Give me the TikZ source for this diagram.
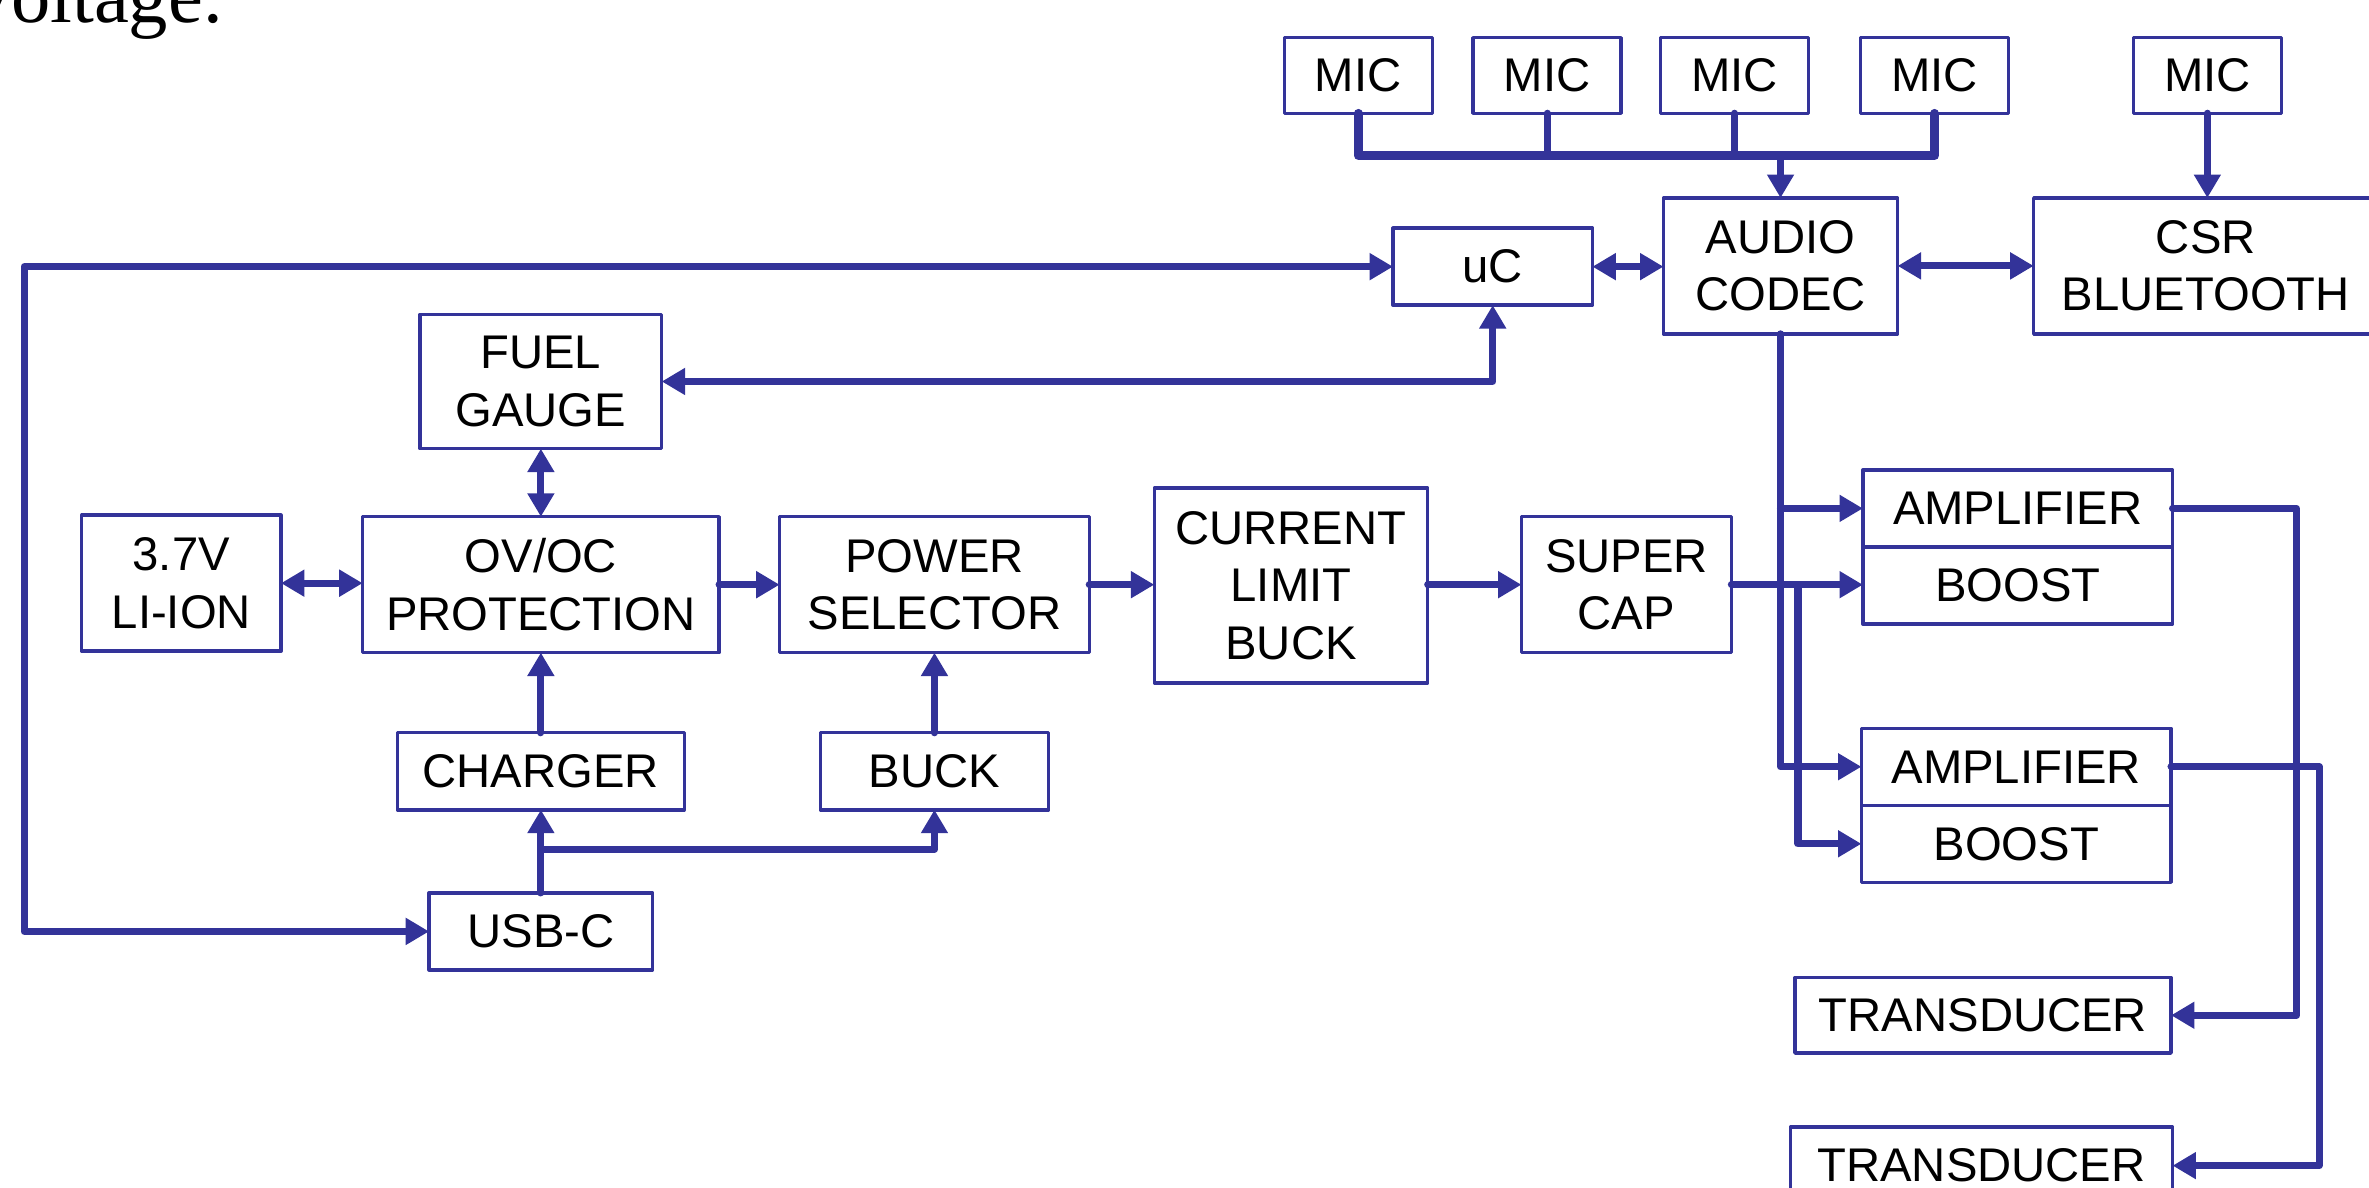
\documentclass[tikz,border=0pt]{standalone}
\usepackage{fontspec}
\setmainfont{Liberation Sans}
\newfontfamily\pagefont{Liberation Serif}
\usetikzlibrary{arrows.meta,positioning}
\definecolor{wireblue}{RGB}{51,51,153}

\begin{document}
\begin{tikzpicture}[x=0.02cm,y=-0.02cm,line cap=round,line join=round,
  blk/.style={draw=wireblue,line width=1.3pt,fill=white,inner sep=0pt,outer sep=0pt,
    align=center,font=\fontsize{17.8}{21.6}\selectfont},
  wire/.style={draw=wireblue,line width=2.7pt},
  arr/.style={wire,-{Triangle[length=3.1mm,width=3.4mm]}},
  both/.style={wire,{Triangle[length=3.1mm,width=3.4mm]}-{Triangle[length=3.1mm,width=3.4mm]}}]
\path[use as bounding box] (0,0) rectangle (1568,786);
\node[font=\pagefont\fontsize{29.6}{30}\selectfont,anchor=base west,inner sep=0pt] (prevtext) at (-19,15) {voltage.};
% microphones
\node[blk,minimum width=1.96cm,minimum height=1cm] (mic1) at (899,50) {MIC};
\node[blk,minimum width=1.96cm,minimum height=1cm] (mic2) at (1024,50) {MIC};
\node[blk,minimum width=1.96cm,minimum height=1cm] (mic3) at (1148,50) {MIC};
\node[blk,minimum width=1.96cm,minimum height=1cm] (mic4) at (1280.5,50) {MIC};
\node[blk,minimum width=1.96cm,minimum height=1cm] (mic5) at (1461,50) {MIC};
% control and audio
\node[blk,minimum width=2.64cm,minimum height=1.02cm] (uc) at (988,176.5) {uC};
\node[blk,minimum width=3.1cm,minimum height=1.8cm] (codec) at (1178.5,176) {AUDIO\\CODEC};
\node[blk,minimum width=4.56cm,minimum height=1.8cm] (bt) at (1460,176) {CSR\\BLUETOOTH};
% power path
\node[blk,minimum width=3.2cm,minimum height=1.78cm] (fuel) at (358,252.5) {FUEL\\GAUGE};
\node[blk,minimum width=2.64cm,minimum height=1.8cm] (liion) at (120,386) {3.7V\\LI-ION};
\node[blk,minimum width=4.72cm,minimum height=1.8cm] (ovoc) at (358,387) {OV/OC\\PROTECTION};
\node[blk,minimum width=4.1cm,minimum height=1.8cm] (psel) at (618.5,387) {POWER\\SELECTOR};
\node[blk,minimum width=3.62cm,minimum height=2.58cm] (clb) at (854.5,387.5) {CURRENT\\LIMIT\\BUCK};
\node[blk,minimum width=2.78cm,minimum height=1.8cm] (scap) at (1076.5,387) {SUPER\\CAP};
\node[blk,minimum width=3.8cm,minimum height=1.02cm] (charger) at (358,510.5) {CHARGER};
\node[blk,minimum width=3.02cm,minimum height=1.02cm] (buck) at (618.5,510.5) {BUCK};
\node[blk,minimum width=2.96cm,minimum height=1.02cm] (usbc) at (358,616.5) {USB-C};
% output stages
\node[blk,minimum width=4.1cm,minimum height=1.02cm] (amp1) at (1335.5,336.5) {AMPLIFIER};
\node[blk,minimum width=4.1cm,minimum height=1.02cm,below=0pt of amp1] (boost1) {BOOST};
\node[blk,minimum width=4.1cm,minimum height=1.02cm] (amp2) at (1334.5,507.5) {AMPLIFIER};
\node[blk,minimum width=4.1cm,minimum height=1.02cm,below=0pt of amp2] (boost2) {BOOST};
\node[blk,minimum width=4.98cm,minimum height=1cm] (trans1) at (1312.5,672) {TRANSDUCER};
\node[blk,minimum width=5.06cm,minimum height=1.02cm] (trans2) at (1311.5,771.5) {TRANSDUCER};
% turning points
\coordinate (bus) at (1178,103);
\coordinate (lft) at (16,176.5);
\coordinate (split) at (358,562);
\coordinate (capbr) at (1190,387);
\coordinate (rt1) at (1520,336.5);
\coordinate (rt2) at (1535,507.5);
% connectors
\draw[wire,line width=3.3pt] (mic1.south) |- (mic4.south |- bus) -- (mic4.south);
\draw[wire] (mic2.south) -- (mic2.south |- bus);
\draw[wire] (mic3.south) -- (mic3.south |- bus);
\draw[arr] (codec.north |- bus) -- (codec.north);
\draw[arr] (mic5.south) -- (mic5.south |- bt.north);
\draw[both] (uc.east) -- (uc.east -| codec.west);
\draw[both] (codec.east) -- (codec.east -| bt.west);
\draw[both] (uc.west) -- (lft) |- (usbc.west);
\draw[both] (uc.south) |- (fuel.east);
\draw[both] (fuel.south) -- (ovoc.north);
\draw[both] (liion.east) -- (liion.east -| ovoc.west);
\draw[arr] (ovoc.east) -- (psel.west);
\draw[arr] (psel.east) -- (psel.east -| clb.west);
\draw[arr] (clb.east |- scap.west) -- (scap.west);
\draw[arr] (charger.north) -- (ovoc.south);
\draw[arr] (buck.north) -- (psel.south);
\draw[arr] (usbc.north) -- (charger.south);
\draw[arr] (split) -| (buck.south);
\draw[arr] (codec.south) |- (amp2.west);
\draw[arr] (codec.south |- amp1.west) -- (amp1.west);
\draw[arr] (scap.east) -- (scap.east -| boost1.west);
\draw[arr] (capbr) |- (boost2.west);
\draw[arr] (amp1.east) -- (rt1) |- (trans1.east);
\draw[arr] (amp2.east) -- (rt2) |- (trans2.east);
\end{tikzpicture}
\end{document}
